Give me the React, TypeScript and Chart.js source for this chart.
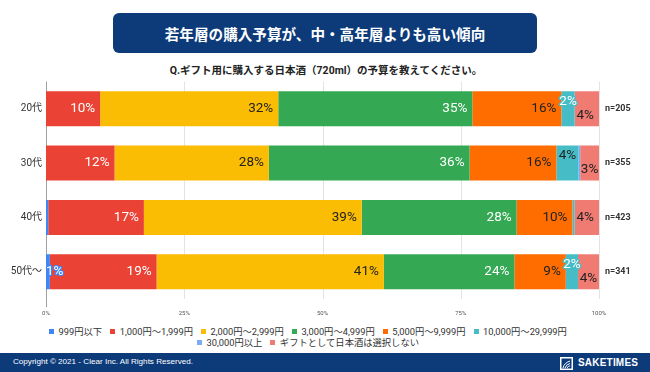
import React, { useEffect, useRef } from 'react';
import { Chart, registerables } from 'chart.js';

Chart.register(...registerables);

// ---- data ----
const categories = ['20代', '30代', '40代', '50代～'];
const sampleSizes = ['n=205', 'n=355', 'n=423', 'n=341'];
const seriesNames = [
  '999円以下',
  '1,000円～1,999円',
  '2,000円～2,999円',
  '3,000円～4,999円',
  '5,000円～9,999円',
  '10,000円～29,999円',
  '30,000円以上',
  'ギフトとして日本酒は選択しない',
];
const under999 = [0, 0, 0.4, 0.7];
const yen1000 = [9.8, 12.4, 17.3, 19.3];
const yen2000 = [32.2, 27.9, 39.4, 41.1];
const yen3000 = [35.1, 36.3, 28.0, 23.6];
const yen5000 = [16.1, 15.7, 10.1, 9.3];
const yen10000 = [2.4, 4.0, 0.4, 2.2];
const over30000 = [0, 0.3, 0, 0];
const notChosen = [4.4, 3.4, 4.4, 3.8];
const xTickValues = [0, 25, 50, 75, 100];

const seriesValues = [under999, yen1000, yen2000, yen3000, yen5000, yen10000, over30000, notChosen];

// ---- styles ----
const barColors = ['#4285F4', '#EA4335', '#FBBC04', '#34A853', '#FF6D01', '#46BDC6', '#7BAAF7', '#F07B72'];
const labelColors = ['#ffffff', '#ffffff', '#222222', '#ffffff', '#222222', '#222222', '#222222', '#222222'];
const FONT = "Roboto, 'Noto Sans CJK JP', sans-serif";
const JP_FONT = "'Noto Sans CJK JP', Roboto, sans-serif";
const NAVY = '#0D3B7A';

const gridPlugin = {
  id: 'customGrid',
  beforeDatasetsDraw(chart: any) {
    const { ctx, chartArea: area, scales } = chart;
    const x = scales.x;
    ctx.save();
    ctx.lineWidth = 1;
    xTickValues.forEach((v) => {
      const px = Math.round(x.getPixelForValue(v)) + 0.5;
      ctx.strokeStyle = v === 0 ? '#a0a0a0' : '#e3e3e3';
      ctx.beginPath();
      ctx.moveTo(px, area.top);
      ctx.lineTo(px, v === 0 ? area.bottom + 8 : area.bottom);
      ctx.stroke();
    });
    ctx.restore();
  },
};

const labelPlugin = {
  id: 'segmentLabels',
  afterDatasetsDraw(chart: any) {
    const { ctx, chartArea: area } = chart;
    ctx.save();
    ctx.font = `13.5px ${FONT}`;
    ctx.textBaseline = 'middle';
    ctx.textAlign = 'left';
    const nBars = chart.data.labels.length;
    for (let i = 0; i < nBars; i++) {
      const items: any[] = [];
      chart.data.datasets.forEach((ds: any, d: number) => {
        const v = ds.data[i];
        const r = Math.round(v);
        if (!r) return;
        const el = chart.getDatasetMeta(d).data[i];
        const { x, base, y } = el.getProps(['x', 'base', 'y'], true);
        const start = Math.min(x, base);
        const end = Math.max(x, base);
        const text = r + '%';
        const w = ctx.measureText(text).width;
        const segW = end - start;
        let left: number;
        let outline = false;
        if (w > segW + 3) {
          outline = true;
          left = (start + end) / 2 - w / 2;
        } else {
          left = end - 5 - w;
          if (left < start) left = (start + end) / 2 - w / 2;
        }
        left = Math.max(area.left, Math.min(area.right - w, left));
        items.push({ text, left, right: left + w, y, shift: 0, outline, bg: barColors[d], fg: labelColors[d] });
      });
      for (let k = items.length - 2; k >= 0; k--) {
        const a = items[k];
        const b = items[k + 1];
        if (b.shift === 0 && a.right + 6 > b.left) {
          a.shift = -7;
          b.shift = 7;
        }
      }
      items.forEach((it) => {
        const ty = it.y + it.shift;
        if (it.outline) {
          ctx.lineJoin = 'round';
          ctx.lineWidth = 2.5;
          ctx.strokeStyle = it.bg;
          ctx.strokeText(it.text, it.left, ty);
          ctx.fillStyle = '#ffffff';
          ctx.fillText(it.text, it.left, ty);
        } else {
          ctx.fillStyle = it.fg;
          ctx.fillText(it.text, it.left, ty);
        }
      });
    }
    ctx.font = `bold 9px ${FONT}`;
    ctx.fillStyle = '#333333';
    const yScale = chart.scales.y;
    sampleSizes.forEach((s, i) => {
      ctx.fillText(s, area.right + 6, yScale.getPixelForValue(i));
    });
    ctx.restore();
  },
};

function ChartCanvas() {
  const ref = useRef<HTMLCanvasElement | null>(null);
  useEffect(() => {
    if (!ref.current) return;
    const chart = new Chart(ref.current, {
      type: 'bar',
      data: {
        labels: categories,
        datasets: seriesNames.map((name, d) => ({
          label: name,
          data: seriesValues[d],
          backgroundColor: barColors[d],
          borderWidth: 0,
          barPercentage: 0.645,
          categoryPercentage: 1,
        })),
      },
      options: {
        indexAxis: 'y',
        responsive: false,
        animation: false,
        events: [],
        layout: { padding: { top: 21.5, right: 51, left: 0, bottom: 0 } },
        plugins: {
          legend: { display: false },
          tooltip: { enabled: false },
        },
        scales: {
          x: {
            stacked: true,
            min: 0,
            max: 100,
            afterBuildTicks: (scale: any) => {
              scale.ticks = xTickValues.map((v) => ({ value: v }));
            },
            afterFit: (scale: any) => {
              scale.height = 23;
            },
            grid: { display: false, drawTicks: false },
            border: { display: false },
            ticks: {
              padding: 11,
              font: { size: 6, family: FONT },
              color: '#555555',
              callback: (v: any) => v + '%',
              maxRotation: 0,
            },
          },
          y: {
            stacked: true,
            afterFit: (scale: any) => {
              scale.width = 46;
            },
            grid: { display: false, drawTicks: false },
            border: { display: false },
            ticks: {
              padding: 4,
              font: { size: 10, family: FONT },
              color: '#333333',
            },
          },
        },
      },
      plugins: [gridPlugin, labelPlugin],
    } as any);
    return () => chart.destroy();
  }, []);
  return (
    <canvas
      ref={ref}
      width={650}
      height={262}
      style={{ position: 'absolute', left: 0, top: 60, width: 650, height: 262 }}
    />
  );
}

export default function App() {
  return (
    <div
      style={{
        position: 'fixed',
        left: 0,
        top: 0,
        width: 650,
        height: 372,
        background: '#ffffff',
        overflow: 'hidden',
        fontFamily: JP_FONT,
      }}
    >
      <div
        style={{
          position: 'absolute',
          left: 113,
          top: 13,
          width: 424,
          height: 40,
          borderRadius: 6,
          background: NAVY,
          color: '#ffffff',
          fontWeight: 700,
          fontSize: 14.6,
          display: 'flex',
          alignItems: 'center',
          justifyContent: 'center',
          fontFamily: JP_FONT,
        }}
      >
        若年層の購入予算が、中・高年層よりも高い傾向
      </div>
      <div
        style={{
          position: 'absolute',
          left: 0,
          top: 63,
          width: 652,
          height: 16,
          lineHeight: '16px',
          textAlign: 'center',
          fontWeight: 700,
          fontSize: 10.5,
          color: '#222222',
          fontFamily: FONT,
        }}
      >
        Q.ギフト用に購入する日本酒（720ml）の予算を教えてください。
      </div>
      <ChartCanvas />
      <div
        style={{
          position: 'absolute',
          left: 30,
          top: 326,
          width: 556,
          display: 'flex',
          flexWrap: 'wrap',
          justifyContent: 'center',
          columnGap: 8,
          rowGap: 0,
          fontFamily: FONT,
          fontSize: 9.3,
          color: '#333333',
          lineHeight: '11px',
        }}
      >
        {seriesNames.map((name, d) => (
          <div key={name} style={{ display: 'flex', alignItems: 'center', whiteSpace: 'nowrap' }}>
            <span style={{ display: 'inline-block', width: 5, height: 5, background: barColors[d], marginRight: 4.5 }} />
            <span>{name}</span>
          </div>
        ))}
      </div>
      <div
        style={{
          position: 'absolute',
          left: 0,
          top: 353,
          width: 650,
          height: 19,
          background: NAVY,
        }}
      >
        <div
          style={{
            position: 'absolute',
            left: 13,
            top: 0,
            lineHeight: '18px',
            fontSize: 8.1,
            color: '#ffffff',
            fontFamily: "'Liberation Sans', Arial, sans-serif",
          }}
        >
          Copyright © 2021 - Clear Inc. All Rights Reserved.
        </div>
        <svg
          width={13}
          height={13}
          viewBox="0 0 13 13"
          style={{ position: 'absolute', left: 560, top: 4 }}
        >
          <rect x={0.75} y={0.75} width={11.5} height={11.5} fill="none" stroke="#ffffff" strokeWidth={1.5} />
          <path d="M3 11 Q4 6 10 4" fill="none" stroke="#ffffff" strokeWidth={1} />
          <path d="M5 11 Q6 7.5 10 6.5" fill="none" stroke="#ffffff" strokeWidth={1} />
          <path d="M7 11 Q8 9 10 8.8" fill="none" stroke="#ffffff" strokeWidth={1} />
        </svg>
        <div
          style={{
            position: 'absolute',
            left: 578,
            top: 0,
            lineHeight: '19px',
            fontSize: 10,
            fontWeight: 700,
            color: '#ffffff',
            fontFamily: "'Liberation Sans Narrow', 'Liberation Sans', Arial, sans-serif",
            letterSpacing: 0.2,
          }}
        >
          SAKETIMES
        </div>
      </div>
    </div>
  );
}
